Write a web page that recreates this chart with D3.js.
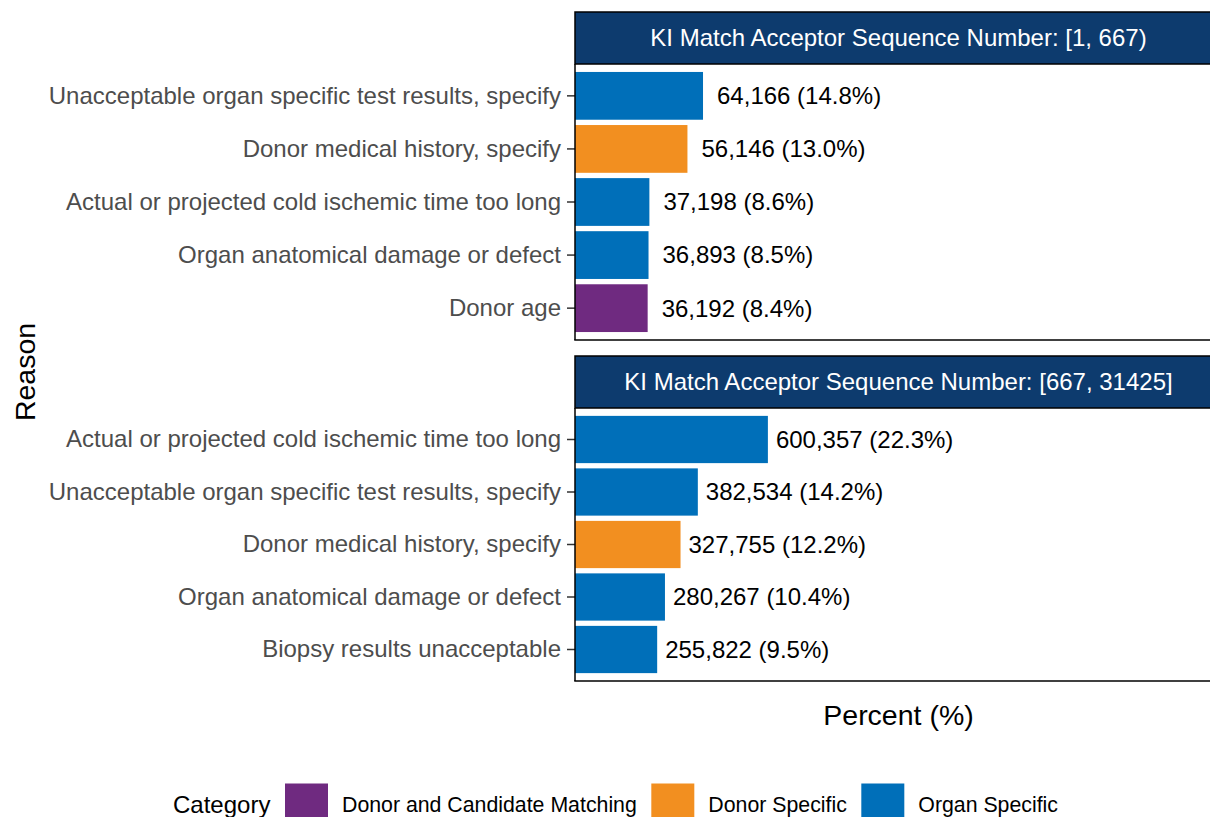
<!DOCTYPE html>
<meta charset="utf-8">
<style>
body { margin: 0; background: #fff; }
svg { display: block; font-family: "Liberation Sans", Arial, Helvetica, sans-serif; }
.tick-label { fill: #4d4d4d; font-size: 24px; }
.bar-label { fill: #000; font-size: 24px; }
.strip-text { fill: #fff; font-size: 24px; }
.axis-title { fill: #000; font-size: 28.5px; }
.legend-text { fill: #000; font-size: 21.3px; }
</style>
<body>
<svg id="chart"></svg>
<script src="https://cdnjs.cloudflare.com/ajax/libs/d3/7.8.5/d3.min.js"></script>
<script>
// data
var stripTitles = ["KI Match Acceptor Sequence Number: [1, 667)",
                   "KI Match Acceptor Sequence Number: [667, 31425]"]

var reasons1 = ["Unacceptable organ specific test results, specify", "Donor medical history, specify",
                "Actual or projected cold ischemic time too long", "Organ anatomical damage or defect", "Donor age"]
var counts1 = [64166, 56146, 37198, 36893, 36192]
var pct1 = [14.8, 13.0, 8.6, 8.5, 8.4]
var cats1 = ["Organ Specific", "Donor Specific", "Organ Specific", "Organ Specific", "Donor and Candidate Matching"]

var reasons2 = ["Actual or projected cold ischemic time too long", "Unacceptable organ specific test results, specify",
                "Donor medical history, specify", "Organ anatomical damage or defect", "Biopsy results unacceptable"]
var counts2 = [600357, 382534, 327755, 280267, 255822]
var pct2 = [22.3, 14.2, 12.2, 10.4, 9.5]
var cats2 = ["Organ Specific", "Organ Specific", "Donor Specific", "Organ Specific", "Organ Specific"]

var categories = ["Donor and Candidate Matching", "Donor Specific", "Organ Specific"]
var catColors = ["#6f2a80", "#f28f20", "#006fb9"]

var W = 1210, H = 817
var svg = d3.select("#chart").attr("width", W).attr("height", H)

var color = d3.scaleOrdinal().domain(categories).range(catColors)
var fmt = d3.format(",")

// panel geometry
var left = 575, right = 1222
var panels = [
  {title: stripTitles[0], reasons: reasons1, counts: counts1, pct: pct1, cats: cats1, stripTop: 12, top: 64, bottom: 340, nudge: 14},
  {title: stripTitles[1], reasons: reasons2, counts: counts2, pct: pct2, cats: cats2, stripTop: 356, top: 408, bottom: 681, nudge: 8}
]

var x = d3.scaleLinear().domain([0, 74.8]).range([left, right])

panels.forEach(function(p) {
  var rows = p.reasons.map(function(r, i) {
    return {reason: r, count: p.counts[i], pct: p.pct[i], cat: p.cats[i]}
  })
  var y = d3.scaleBand().domain(p.reasons).range([p.top, p.bottom])
            .paddingInner(0.1).paddingOuter(0.15)
  var g = svg.append("g")

  // strip
  g.append("rect")
    .attr("x", left).attr("y", p.stripTop)
    .attr("width", right - left).attr("height", p.top - p.stripTop)
    .attr("fill", "#0d3b6e").attr("stroke", "#000").attr("stroke-width", 1.5)
  g.append("text").attr("class", "strip-text")
    .attr("x", (left + right) / 2).attr("y", (p.stripTop + p.top) / 2)
    .attr("dy", "0.35em").attr("text-anchor", "middle")
    .text(p.title)

  // bars
  g.selectAll("rect.bar").data(rows).enter().append("rect")
    .attr("class", "bar")
    .attr("x", x(0))
    .attr("y", function(d) { return y(d.reason) })
    .attr("width", function(d) { return x(d.pct) - x(0) })
    .attr("height", y.bandwidth())
    .attr("fill", function(d) { return color(d.cat) })

  g.selectAll("text.bar-label").data(rows).enter().append("text")
    .attr("class", "bar-label")
    .attr("x", function(d) { return x(d.pct) + p.nudge })
    .attr("y", function(d) { return y(d.reason) + y.bandwidth() / 2 })
    .attr("dy", "0.35em")
    .text(function(d) { return fmt(d.count) + " (" + d.pct.toFixed(1) + "%)" })

  // y axis
  var yAxis = d3.axisLeft(y).tickSize(8).tickPadding(6)
  var ax = g.append("g").attr("transform", "translate(" + left + ",0)").call(yAxis)
  ax.select(".domain").remove()
  ax.selectAll(".tick line").attr("stroke", "#333").attr("stroke-width", 1.5)
  ax.selectAll(".tick text").attr("class", "tick-label").attr("fill", null)
    .style("font-size", "24px").style("font-family", "inherit")

  // axis lines
  g.append("line").attr("x1", left).attr("x2", left).attr("y1", p.top).attr("y2", p.bottom)
    .attr("stroke", "#000").attr("stroke-width", 1.5)
  g.append("line").attr("x1", left - 0.75).attr("x2", right).attr("y1", p.bottom).attr("y2", p.bottom)
    .attr("stroke", "#000").attr("stroke-width", 1.5)
})

// axis titles
svg.append("text").attr("class", "axis-title")
  .attr("x", (left + right) / 2).attr("y", 715).attr("dy", "0.35em")
  .attr("text-anchor", "middle").text("Percent (%)")
svg.append("text").attr("class", "axis-title")
  .attr("transform", "translate(25,372) rotate(-90)")
  .attr("dy", "0.35em").attr("text-anchor", "middle").text("Reason")

// legend
var leg = svg.append("g").attr("transform", "translate(0,805)")
var lx = 173
var t0 = leg.append("text").attr("class", "legend-text").style("font-size", "24px")
  .attr("x", lx).attr("dy", "0.35em").text("Category")
lx = 285
categories.forEach(function(c) {
  leg.append("rect").attr("x", lx).attr("y", -21.5).attr("width", 43).attr("height", 43)
    .attr("fill", color(c))
  lx += 43 + 14
  var t = leg.append("text").attr("class", "legend-text").attr("x", lx).attr("dy", "0.35em").text(c)
  lx += t.node().getComputedTextLength() + 14.5
})
</script>
</body>
